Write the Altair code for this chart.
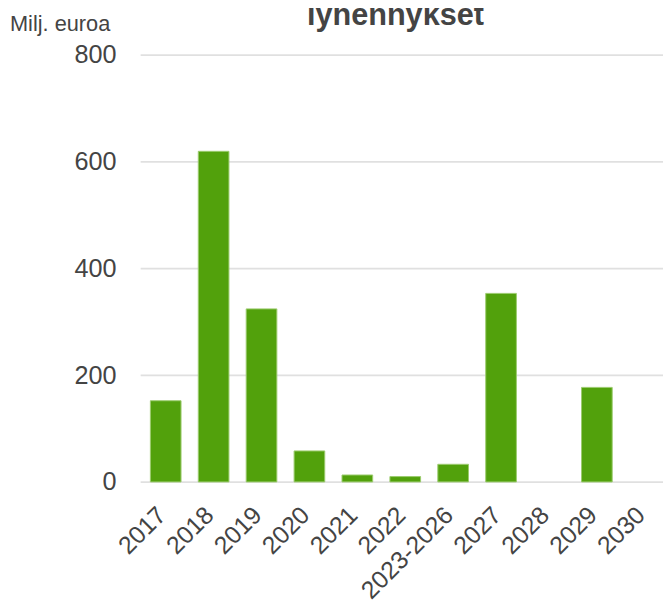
import altair as alt
import pandas as pd

categories = ["2017", "2018", "2019", "2020", "2021", "2022", "2023-2026",
              "2027", "2028", "2029", "2030"]
values = [152, 619, 324, 58, 13, 10, 33, 353, None, 177, None]
y_ticks = [0, 200, 400, 600, 800]

title_text = "lyhennykset"
unit_text = "Milj. euroa"

df = pd.DataFrame({"vuosi": categories, "arvo": values})

FONT = "Liberation Sans"
TEXT = "#444444"

W = 529
H = 432.3

base = alt.Chart(df)

bars = base.mark_bar(color="#52a10c", stroke="#9ccb6e", strokeWidth=1).encode(
    x=alt.X(
        "vuosi:N",
        sort=categories,
        scale=alt.Scale(domain=categories, paddingInner=0.36, paddingOuter=0.137, align=0.78),
        axis=alt.Axis(
            title=None,
            labelAngle=-45,
            labelAlign="right",
            labelBaseline="middle",
            labelFontSize=25,
            labelFont=FONT,
            labelColor=TEXT,
            labelPadding=29,
            labelOffset=-4,
            ticks=False,
            tickSize=0,
            domain=False,
            grid=False,
            labelOverlap=False,
        ),
    ),
    y=alt.Y(
        "arvo:Q",
        scale=alt.Scale(domain=[0, 800], nice=False),
        axis=alt.Axis(
            title=None,
            values=y_ticks,
            labelFontSize=25.5,
            labelFont=FONT,
            labelColor=TEXT,
            labelPadding=24.4,
            ticks=False,
            tickSize=0,
            domain=False,
            gridColor="#e0e0e0",
            gridWidth=1.6,
        ),
    ),
)

title_df = pd.DataFrame({"t": [title_text]})
title = alt.Chart(title_df).mark_text(
    font=FONT, fontSize=31, fontWeight="bold", color=TEXT,
    align="center", baseline="alphabetic",
).encode(text="t:N", x=alt.value(400 - 141.7), y=alt.value(22 - 51.7))

unit_df = pd.DataFrame({"t": [unit_text]})
unit = alt.Chart(unit_df).mark_text(
    font=FONT, fontSize=22, color=TEXT,
    align="left", baseline="alphabetic",
).encode(text="t:N", x=alt.value(10 - 141.7), y=alt.value(28 - 51.7))

chart = alt.layer(bars, title, unit).properties(
    width=W,
    height=H,
    autosize=alt.AutoSizeParams(type="none"),
    padding={"left": 133.7, "top": 43.7, "right": 0, "bottom": 120},
).configure_view(stroke=None)

chart.save("out.html", embed_options={"renderer": "svg", "actions": False})
